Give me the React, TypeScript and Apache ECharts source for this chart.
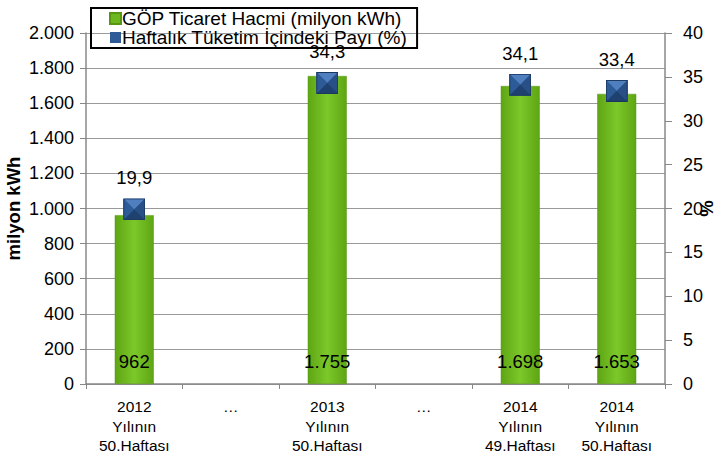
import React, { useEffect, useRef } from "react";
import * as echarts from "echarts";

const categories = [
  "2012\nYılının\n50.Haftası",
  "…",
  "2013\nYılının\n50.Haftası",
  "…",
  "2014\nYılının\n49.Haftası",
  "2014\nYılının\n50.Haftası",
];
const tradeVolume: (number | null)[] = [962, null, 1755, null, 1698, 1653];
const consumptionShare: (number | null)[] = [19.9, null, 34.3, null, 34.1, 33.4];
const seriesNames = ["GÖP Ticaret Hacmi (milyon kWh)", "Haftalık Tüketim İçindeki Payı (%)"];

const fmtThousands = (v: number) =>
  String(Math.round(v)).replace(/\B(?=(\d{3})+(?!\d))/g, ".");

const markerSvg =
  '<svg xmlns="http://www.w3.org/2000/svg" width="22" height="22" viewBox="0 0 22 22">' +
  '<rect x="0" y="0" width="22" height="22" fill="#2b5891"/>' +
  '<polygon points="0,0 22,0 11,11" fill="#4f7fbf"/>' +
  '<polygon points="0,0 0,22 11,11" fill="#2d5b97"/>' +
  '<polygon points="22,0 22,22 11,11" fill="#284f86"/>' +
  '<polygon points="0,22 22,22 11,11" fill="#1f416f"/>' +
  '<rect x="0.5" y="0.5" width="21" height="21" fill="none" stroke="#1b375f" stroke-width="1"/>' +
  "</svg>";
const markerSymbol = "image://data:image/svg+xml;charset=utf-8," + encodeURIComponent(markerSvg);

export default function App() {
  const ref = useRef<HTMLDivElement>(null);
  useEffect(() => {
    if (!ref.current) return;
    const chart = echarts.init(ref.current, undefined, { renderer: "svg" });
    const font = "Liberation Sans, Arial, sans-serif";
    chart.setOption({
      animation: false,
      textStyle: { fontFamily: font },
      grid: { left: 86, right: 52, top: 33, bottom: 75, outerBoundsMode: "none", containLabel: false },
      legend: {
        orient: "vertical",
        left: 91,
        top: 8,
        padding: [1, 10, 1, 18],
        borderColor: "#000",
        borderWidth: 2,
        itemWidth: 11,
        itemHeight: 11,
        itemGap: 0,
        textStyle: { fontSize: 19, lineHeight: 18, color: "#000", padding: [0, 0, 0, -4], fontFamily: font },
        data: [
          { name: seriesNames[0], icon: "rect", itemStyle: { color: "#6cb81f" } },
          { name: seriesNames[1], icon: "rect", itemStyle: { color: "#2e5b97" } },
        ],
      },
      xAxis: {
        type: "category",
        data: categories,
        axisLine: { lineStyle: { color: "#888", width: 1.5 } },
        axisTick: { show: true, length: 5, lineStyle: { color: "#888" } },
        axisLabel: { color: "#000", fontSize: 15.5, lineHeight: 19.5, margin: 13, interval: 0 },
      },
      yAxis: [
        {
          type: "value",
          min: 0,
          max: 2000,
          interval: 200,
          name: "milyon kWh",
          nameLocation: "middle",
          nameGap: 63,
          nameMoveOverlap: false,
          nameTextStyle: { fontSize: 18.5, fontWeight: "bold", color: "#000" },
          axisLine: { show: true, lineStyle: { color: "#888", width: 1.5 } },
          axisTick: { show: true, length: 6, lineStyle: { color: "#888" } },
          axisLabel: { color: "#000", fontSize: 18, margin: 12, formatter: (v: number) => fmtThousands(v) },
          splitLine: { lineStyle: { color: "#999", width: 1 } },
        },
        {
          type: "value",
          min: 0,
          max: 40,
          interval: 5,
          name: "%",
          nameLocation: "middle",
          nameGap: 32,
          nameMoveOverlap: false,
          nameRotate: -90,
          nameTextStyle: { fontSize: 18.5, fontWeight: "bold", color: "#000" },
          axisLine: { show: true, lineStyle: { color: "#888", width: 1.5 } },
          axisTick: { show: true, length: 7, lineStyle: { color: "#888" } },
          axisLabel: { color: "#000", fontSize: 18, margin: 18 },
          splitLine: { show: false },
        },
      ],
      series: [
        {
          name: seriesNames[0],
          type: "bar",
          data: tradeVolume,
          barWidth: 39,
          itemStyle: {
            color: new echarts.graphic.LinearGradient(0, 0, 1, 0, [
              { offset: 0, color: "#5ea513" },
              { offset: 0.5, color: "#7cc82a" },
              { offset: 1, color: "#5ea513" },
            ]),
            borderColor: "#57970f",
            borderWidth: 0.5,
          },
          label: {
            show: true,
            position: "insideBottom",
            distance: 13,
            color: "#000",
            fontSize: 18.5,
            formatter: (p: any) => fmtThousands(p.value),
          },
        },
        {
          name: seriesNames[1],
          type: "line",
          yAxisIndex: 1,
          data: consumptionShare,
          connectNulls: false,
          lineStyle: { width: 0, opacity: 0 },
          symbol: markerSymbol,
          symbolSize: 22,
          itemStyle: { color: "#2e5b97" },
          label: {
            show: true,
            position: "top",
            distance: 11,
            color: "#000",
            fontSize: 18.5,
            formatter: (p: any) => String(p.value.toFixed(1)).replace(".", ","),
          },
          z: 3,
        },
      ],
    });
    return () => chart.dispose();
  }, []);
  return <div ref={ref} style={{ width: 717, height: 459, position: "absolute", left: 0, top: 0 }} />;
}
